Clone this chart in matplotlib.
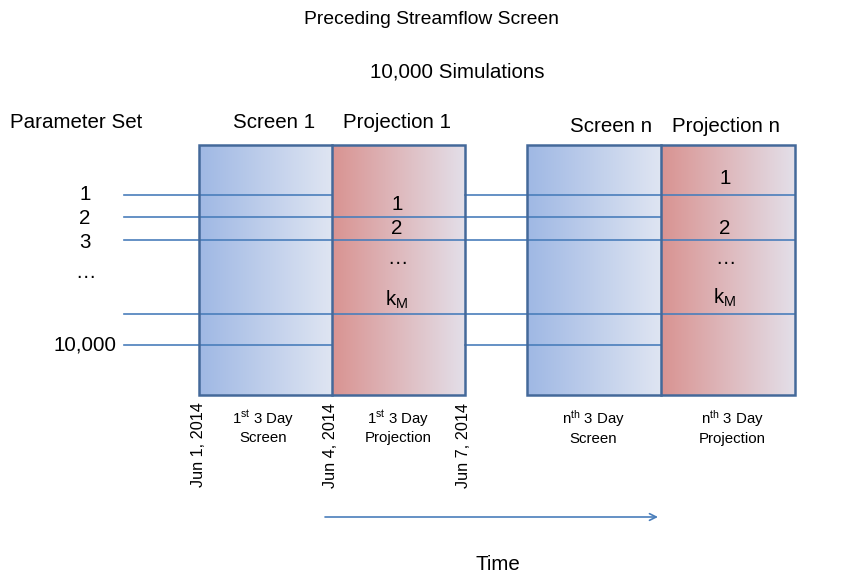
import matplotlib.pyplot as plt
import numpy as np
from matplotlib.colors import LinearSegmentedColormap
from matplotlib.patches import Rectangle

plt.rcParams['font.family'] = ['Liberation Sans', 'DejaVu Sans']
plt.rcParams['mathtext.fontset'] = 'custom'
plt.rcParams['mathtext.rm'] = 'Liberation Sans'
plt.rcParams['mathtext.it'] = 'Liberation Sans'

# текст и данные схемы
title = 'Preceding Streamflow Screen'
subtitle = '10,000 Simulations'
param_labels = ['1', '2', '3', '\u2026', '10,000']
row_y = [195, 217, 240, 314, 345]
# проходит ли линия через проекцию 1 / проекцию n
pass_proj1 = [False, True, True, True, False]
pass_projn = [True, False, True, True, False]
proj1_labels = ['1', '2', '\u2026', 'k$_{\\mathrm{M}}$']
proj1_y = [204, 228, 258, 300]
projn_labels = ['1', '2', '\u2026', 'k$_{\\mathrm{M}}$']
projn_y = [178, 228, 258, 298]
dates = ['Jun 1, 2014', 'Jun 4, 2014', 'Jun 7, 2014']
period_labels = ['1$^{\\mathrm{st}}$ 3 Day\nScreen', '1$^{\\mathrm{st}}$ 3 Day\nProjection',
                 'n$^{\\mathrm{th}}$ 3 Day\nScreen', 'n$^{\\mathrm{th}}$ 3 Day\nProjection']

line_col = '#4a7ebb'
edge_col = '#44699a'
blue_cm = LinearSegmentedColormap.from_list('b', ['#9fb8e4', '#dfe5f2'])
red_cm = LinearSegmentedColormap.from_list('r', ['#d99391', '#e3dfe9'])
fs = 14.8

fig = plt.figure(figsize=(8.49, 5.75), dpi=100)
ax = fig.add_axes([0, 0, 1, 1])

top, bot = 145, 395
boxes = [(199, 332, 465), (527, 661, 795)]
grad = np.linspace(0, 1, 256).reshape(1, -1)

# градиентные блоки
for x0, xm, x1 in boxes:
    ax.imshow(grad, cmap=blue_cm, extent=(x0, xm, bot, top), aspect='auto', zorder=1)
    ax.imshow(grad, cmap=red_cm, extent=(xm, x1, bot, top), aspect='auto', zorder=1)
ax.set_xlim(0, 849)
ax.set_ylim(575, 0)
ax.axis('off')

# линии наборов параметров
(b1l, b1m, b1r), (b2l, b2m, b2r) = boxes
for y, p1, pn in zip(row_y, pass_proj1, pass_projn):
    ax.plot([124, b1r if p1 else b1m], [y, y], color=line_col, lw=1.2, zorder=2)
    ax.plot([b1r, b2r if pn else b2m], [y, y], color=line_col, lw=1.2, zorder=2)
    ax.annotate('', xy=(853, y), xytext=(b2r, y),
                arrowprops=dict(arrowstyle='->', color=line_col, lw=1.2,
                                shrinkA=0, shrinkB=0, mutation_scale=10), zorder=2)

# рамки
for x0, xm, x1 in boxes:
    ax.add_patch(Rectangle((x0, top), x1 - x0, bot - top, fill=False,
                           ec=edge_col, lw=1.8, zorder=3))
    ax.plot([xm, xm], [top, bot], color=edge_col, lw=1.8, zorder=3)

# подписи
ax.text(431, 19, title, ha='center', va='center', fontsize=13.9)
ax.text(457, 72, subtitle, ha='center', va='center', fontsize=fs)
ax.text(10, 122, 'Parameter Set', ha='left', va='center', fontsize=fs)
ax.text(274, 123, 'Screen 1', ha='center', va='center', fontsize=fs)
ax.text(397, 123, 'Projection 1', ha='center', va='center', fontsize=fs)
ax.text(611, 127, 'Screen n', ha='center', va='center', fontsize=fs)
ax.text(726, 127, 'Projection n', ha='center', va='center', fontsize=fs)

label_y = [194, 219, 243, 272, 345]
for lab, y in zip(param_labels, label_y):
    if lab == '10,000':
        ax.text(117, y, lab, ha='right', va='center', fontsize=fs)
    else:
        ax.text(85, y, lab, ha='center', va='center', fontsize=fs)

for lab, y in zip(proj1_labels, proj1_y):
    ax.text(397, y, lab, ha='center', va='center', fontsize=fs, zorder=4)
for lab, y in zip(projn_labels, projn_y):
    ax.text(725, y, lab, ha='center', va='center', fontsize=fs, zorder=4)

for lab, x in zip(dates, [199, 331, 464]):
    ax.text(x, 445, lab, ha='center', va='center', rotation=90, fontsize=11.7)
for lab, x in zip(period_labels, [263, 398, 593, 732]):
    ax.text(x, 427, lab, ha='center', va='center', fontsize=10.8, linespacing=1.2)

ax.annotate('', xy=(658, 517), xytext=(325, 517),
            arrowprops=dict(arrowstyle='->', color=line_col, lw=1.2,
                            shrinkA=0, shrinkB=0, mutation_scale=12))
ax.text(498, 564, 'Time', ha='center', va='center', fontsize=fs)

fig.savefig('out.png', dpi=100)
